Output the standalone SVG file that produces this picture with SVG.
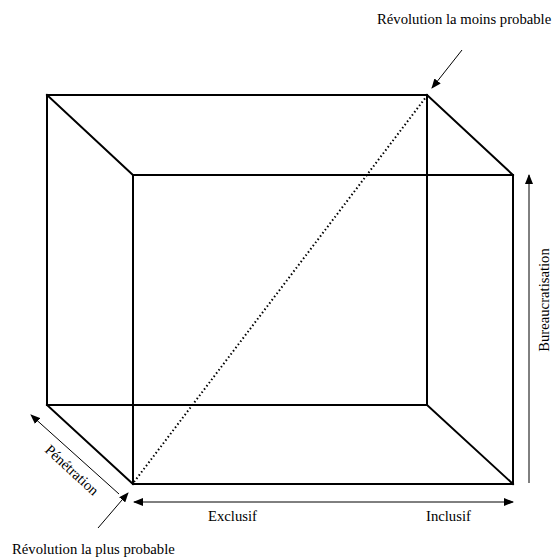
<svg xmlns="http://www.w3.org/2000/svg" width="555" height="559" viewBox="0 0 555 559">
<style>
.edge{stroke:#000;stroke-width:2;fill:none;stroke-linecap:square}
.dot{stroke:#000;stroke-width:2;stroke-dasharray:1.5,2.5;fill:none}
.arr{stroke:#000;stroke-width:1;fill:none}
text{font-family:"Liberation Serif","Times New Roman",serif;font-size:14.7px;fill:#000}
</style>
<defs>
<marker id="ah" markerWidth="10" markerHeight="8" refX="9" refY="4" orient="auto" markerUnits="userSpaceOnUse">
<path d="M0,0 L10,4 L0,8 Z" fill="#000"/>
</marker>
<marker id="ahs" markerWidth="10" markerHeight="8" refX="1" refY="4" orient="auto" markerUnits="userSpaceOnUse">
<path d="M10,0 L0,4 L10,8 Z" fill="#000"/>
</marker>
</defs>
<g id="cube">
<rect class="edge" x="47" y="95" width="380" height="310"/>
<rect class="edge" x="133" y="175" width="380" height="309"/>
<line class="edge" x1="47" y1="95" x2="133" y2="175"/>
<line class="edge" x1="427" y1="95" x2="513" y2="175"/>
<line class="edge" x1="47" y1="405" x2="133" y2="484"/>
<line class="edge" x1="427" y1="405" x2="513" y2="484"/>
</g>
<g id="connectors">
<line class="dot" x1="134" y1="482" x2="426" y2="97"/>
<line class="arr" x1="462" y1="50" x2="432" y2="88" marker-end="url(#ah)"/>
<line class="arr" x1="98" y1="528" x2="128" y2="493" marker-end="url(#ah)"/>
<line class="arr" x1="119" y1="494" x2="31" y2="415" marker-end="url(#ah)"/>
<line class="arr" x1="134" y1="502" x2="513" y2="502" marker-start="url(#ahs)" marker-end="url(#ah)"/>
<line class="arr" x1="529" y1="483" x2="529" y2="175" marker-end="url(#ah)"/>
</g>
<g id="labels">
<text id="t-moins" x="377" y="24">Révolution la moins probable</text>
<text id="t-plus" x="12" y="554">Révolution la plus probable</text>
<text id="t-excl" x="208" y="521">Exclusif</text>
<text id="t-incl" x="426" y="521">Inclusif</text>
<text id="t-bur" transform="translate(549,300) rotate(-90)" text-anchor="middle">Bureaucratisation</text>
<text id="t-pen" transform="translate(72,470) rotate(42.6)" text-anchor="middle" dy="5">Pénétration</text>
</g>
</svg>
